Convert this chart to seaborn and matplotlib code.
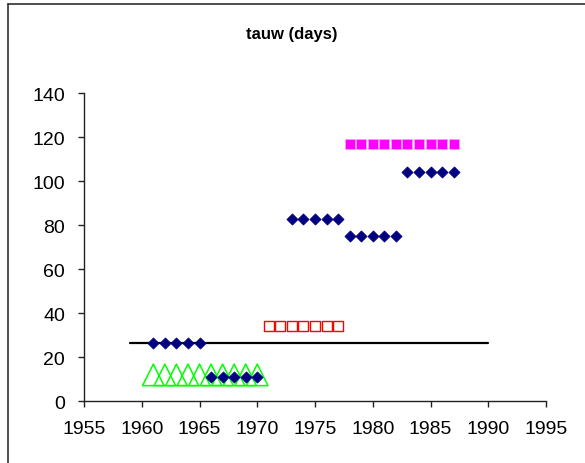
import matplotlib
matplotlib.use("Agg")
import matplotlib.pyplot as plt
from matplotlib.lines import Line2D
import pandas as pd
import seaborn as sns

# Series values (year, tauw in days)
diamond_years = [1961, 1962, 1963, 1964, 1965,
                 1966, 1967, 1968, 1969, 1970,
                 1973, 1974, 1975, 1976, 1977,
                 1978, 1979, 1980, 1981, 1982,
                 1983, 1984, 1985, 1986, 1987]
diamond_vals = [26.6, 26.6, 26.6, 26.6, 26.6,
                11, 11, 11, 11, 11,
                83, 83, 83, 83, 83,
                75, 75, 75, 75, 75,
                104, 104, 104, 104, 104]

triangle_years = [1961, 1962, 1963, 1964, 1965, 1966, 1967, 1968, 1969, 1970]
triangle_vals = [12, 12, 12, 12, 12, 12, 12, 12, 12, 12]

open_sq_years = [1971, 1972, 1973, 1974, 1975, 1976, 1977]
open_sq_vals = [34, 34, 34, 34, 34, 34, 34]

filled_sq_years = [1978, 1979, 1980, 1981, 1982, 1983, 1984, 1985, 1986, 1987]
filled_sq_vals = [117, 117, 117, 117, 117, 117, 117, 117, 117, 117]

mean_years = [1959, 1990]
mean_vals = [26.6, 26.6]

x_ticks = [1955, 1960, 1965, 1970, 1975, 1980, 1985, 1990, 1995]
y_ticks = [0, 20, 40, 60, 80, 100, 120, 140]

sns.set_style("white")
plt.rcParams["font.family"] = ["Liberation Sans", "DejaVu Sans"]
plt.rcParams["text.color"] = "black"

fig = plt.figure(figsize=(5.85, 4.64), dpi=100)
ax = fig.add_axes([84 / 585, 1 - 402.3 / 464, (546 - 84) / 585, (402.3 - 94) / 464])

df_mean = pd.DataFrame({"year": mean_years, "tauw": mean_vals})
df_tri = pd.DataFrame({"year": triangle_years, "tauw": triangle_vals})
df_dia = pd.DataFrame({"year": diamond_years, "tauw": diamond_vals})
df_open = pd.DataFrame({"year": open_sq_years, "tauw": open_sq_vals})
df_fill = pd.DataFrame({"year": filled_sq_years, "tauw": filled_sq_vals})

sns.lineplot(data=df_mean, x="year", y="tauw", ax=ax, color="black",
             linewidth=1.6, zorder=2)
sns.scatterplot(data=df_tri, x="year", y="tauw", ax=ax, marker="^", s=15.5 ** 2,
                facecolor="none", edgecolor="#00FF00", linewidth=1.1, zorder=3)
sns.scatterplot(data=df_dia, x="year", y="tauw", ax=ax, marker="D", s=5.7 ** 2,
                color="#000080", edgecolor="#000080", linewidth=0.5, zorder=4)
sns.scatterplot(data=df_open, x="year", y="tauw", ax=ax, marker="s", s=7.0 ** 2,
                facecolor="white", edgecolor="#FF0000", linewidth=1.0, zorder=4)
sns.scatterplot(data=df_fill, x="year", y="tauw", ax=ax, marker="s", s=7.9 ** 2,
                color="#FF00FF", edgecolor="#FF9CFF", linewidth=0.5, zorder=4)

ax.set_xlim(1955, 1995)
ax.set_ylim(0, 140)
ax.set_xticks(x_ticks)
ax.set_yticks(y_ticks)
ax.set_xlabel("")
ax.set_ylabel("")
for side in ("top", "right"):
    ax.spines[side].set_visible(False)
for side in ("left", "bottom"):
    ax.spines[side].set_color("#222222")
    ax.spines[side].set_linewidth(1.0)
ax.tick_params(axis="both", which="major", direction="out", length=4.5, width=1.0,
               color="#222222", labelsize=14, pad=9, labelcolor="black",
               bottom=True, left=True)
ax.grid(False)

fig.text(292 / 585, 1 - 35 / 464, "tauw (days)", ha="center", va="center",
         fontsize=12, fontweight="bold", color="black")

# chart area frame (left and top edges)
fig.add_artist(Line2D([8 / 585, 8 / 585], [0, 1 - 5 / 464], transform=fig.transFigure,
                      color="#303030", linewidth=1.2))
fig.add_artist(Line2D([8 / 585, 1], [1 - 5 / 464, 1 - 5 / 464], transform=fig.transFigure,
                      color="#303030", linewidth=1.2))

fig.savefig("out.png", dpi=100)
